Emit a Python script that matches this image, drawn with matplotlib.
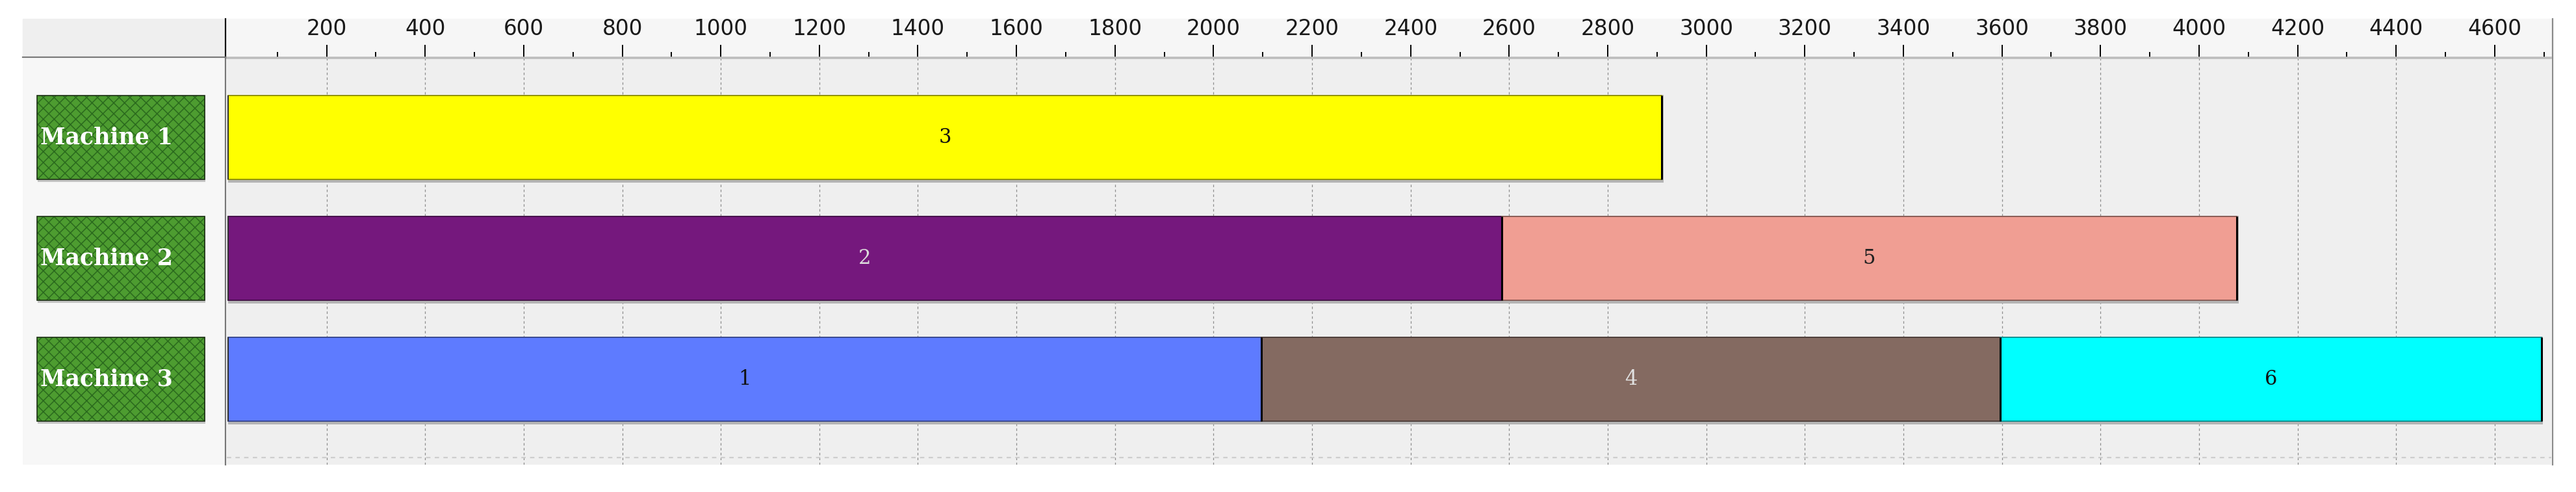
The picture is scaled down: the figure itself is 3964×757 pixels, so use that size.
import numpy as np
import matplotlib
matplotlib.use("Agg")
import matplotlib.pyplot as plt
import matplotlib.colors as mcolors
from matplotlib.patches import Rectangle
from matplotlib.lines import Line2D

# data
machines = ['Machine 1', 'Machine 2', 'Machine 3']
jobs = ['3', '2', '5', '1', '4', '6']
job_machine = [0, 1, 1, 2, 2, 2]
job_start = [0, 0, 2585, 0, 2097, 3597]
job_duration = [2910, 2585, 1492, 2097, 1500, 1098]
job_colors = ['#ffff00', '#75187d', '#f09e93', '#5e7bff', '#846a61', '#00ffff']
label_colors = ['#111111', '#dcdcdc', '#222222', '#111111', '#e0e0e0', '#111111']

W, H = 3964, 757
def fx(px):
    return px / W
def fy(py):
    return 1 - py / H

plt.rcParams['hatch.linewidth'] = 1.1
fig = plt.figure(figsize=(W / 100, H / 100), dpi=100)
fig.patch.set_facecolor('white')

# backgrounds of the header strip
fig.add_artist(Rectangle((fx(35), fy(88)), fx(347) - fx(35), (88 - 29) / H,
                         transform=fig.transFigure, color='#efefef', zorder=-1))
fig.add_artist(Rectangle((fx(348), fy(88)), fx(3928) - fx(348), (88 - 29) / H,
                         transform=fig.transFigure, color='#f6f6f6', zorder=-1))

# chart area
ax = fig.add_axes([fx(349), fy(715), fx(3926) - fx(349), (715 - 90) / H])
ax.set_facecolor('#efefef')
ax.set_xlim(-2.6, 4715)
ax.set_ylim(2.707, -0.653)
bar_h = 0.694

ax.xaxis.tick_top()
ax.set_xticks(np.arange(200, 4700, 200))
ax.set_xticks(np.arange(100, 4800, 100), minor=True)
ax.tick_params(axis='x', which='major', length=15, width=1.4, pad=6,
               labelsize=23.5, labelcolor='#1a1a1a', color='black')
ax.tick_params(axis='x', which='minor', length=7.5, width=1.4, color='black')
ax.set_yticks([])
for s in ax.spines.values():
    s.set_visible(False)
ax.grid(axis='x', which='major', linestyle=(0, (3, 3)), color='#8c8c8c', linewidth=0.9)
ax.set_axisbelow(True)
ax.axhline(2.648, color='#cdcdcd', linestyle=(0, (3, 3)), linewidth=1.6, zorder=1)

ys = np.array(job_machine)
starts = np.array(job_start)
durs = np.array(job_duration)
edge_cols = [tuple(np.array(mcolors.to_rgb(c)) * 0.55) for c in job_colors]

# light shadow around the bars
ax.barh(ys + 0.01, durs + 3, left=starts, height=bar_h + 0.03, color='#b4b4b4', zorder=2)
ax.barh(ys, durs, left=starts, height=bar_h, color=job_colors,
        edgecolor=edge_cols, linewidth=1.3, zorder=3)
ax.vlines(starts + durs, ys - bar_h / 2, ys + bar_h / 2, color='black', linewidth=2.2, zorder=4)
ax.vlines(starts[starts == 0], ys[starts == 0] - bar_h / 2, ys[starts == 0] + bar_h / 2,
          color='#333333', linewidth=1.5, zorder=4)
for j, lab in enumerate(jobs):
    ax.text(starts[j] + durs[j] / 2, ys[j], lab, ha='center', va='center',
            fontsize=22, color=label_colors[j], family='DejaVu Serif', zorder=5)

# machine label panel
axl = fig.add_axes([fx(35), fy(715), fx(347) - fx(35), (715 - 90) / H], sharey=ax)
axl.set_facecolor('#f7f7f7')
axl.set_xlim(35, 347)
axl.axis('off')
axl.add_patch(Rectangle((35, -1), 312, 5, color='#f7f7f7', zorder=0))
mpos = np.arange(len(machines))
axl.barh(mpos + 0.012, 258, left=58, height=bar_h + 0.02, color='#c4c4c4', zorder=1)
axl.barh(mpos, 258, left=57, height=bar_h, color='#4d9c30', hatch='xx',
         edgecolor='#2b6a1e', linewidth=0, zorder=2)
axl.barh(mpos, 258, left=57, height=bar_h, fill=False, edgecolor='#1a2e12',
         linewidth=1.2, zorder=3)
for i, m in enumerate(machines):
    axl.text(62, i, m, ha='left', va='center', color='white', fontsize=25,
             fontweight='bold', family='DejaVu Serif', zorder=4)

# frame lines
fig.add_artist(Line2D([fx(35), fx(347)], [fy(88), fy(88)], transform=fig.transFigure,
                      color='#7a7a7a', linewidth=1.6, zorder=6))
fig.add_artist(Line2D([fx(348), fx(3925)], [fy(88.5), fy(88.5)], transform=fig.transFigure,
                      color='#bdbdbd', linewidth=2.6, zorder=6))
fig.add_artist(Line2D([fx(347), fx(347)], [fy(29), fy(88)], transform=fig.transFigure,
                      color='#111111', linewidth=1.6, zorder=6))
fig.add_artist(Line2D([fx(347), fx(347)], [fy(88), fy(715)], transform=fig.transFigure,
                      color='#777777', linewidth=1.6, zorder=6))
fig.add_artist(Line2D([fx(3928), fx(3928)], [fy(29), fy(715)], transform=fig.transFigure,
                      color='#8a8a8a', linewidth=1.6, zorder=6))

fig.savefig('out.png', dpi=100)
